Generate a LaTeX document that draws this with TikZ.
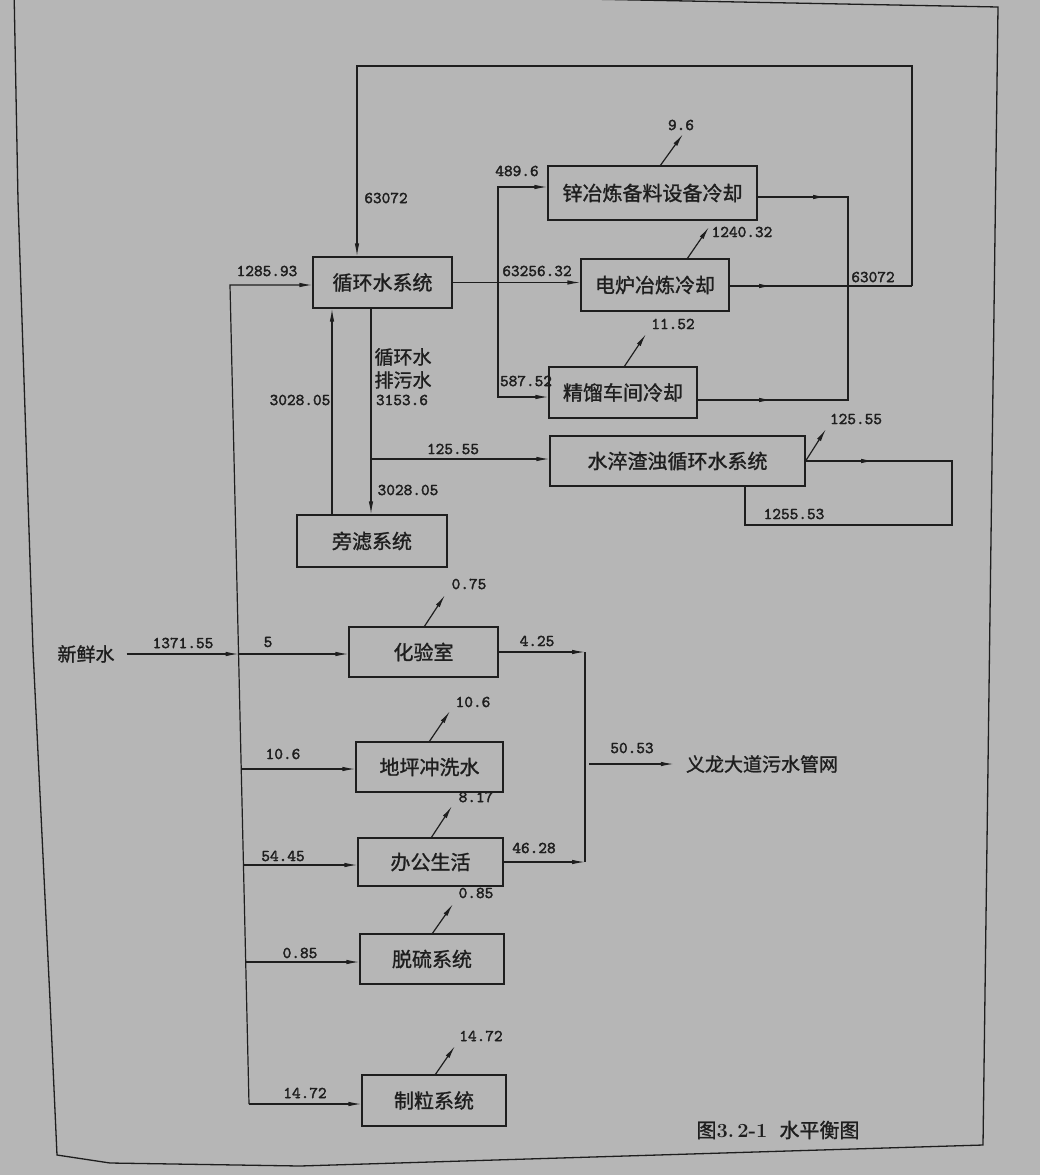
\documentclass[tikz,border=0pt]{standalone}
\usepackage{fontspec}
\newfontfamily\cjk[FakeBold=1.2]{Noto Sans CJK SC}
\newfontfamily\numfont[FakeBold=2.2]{lmmono10-regular.otf}
\usetikzlibrary{arrows.meta,calc}
\definecolor{pagec}{RGB}{182,182,182}
\definecolor{inkc}{RGB}{30,30,30}
\begin{document}
\begin{tikzpicture}[x=1pt,y=-1pt,
  ink/.style={color=inkc, line width=1.2pt},
  arr/.style={ink, -{Latex[length=13pt,width=4.5pt]}},
  biarr/.style={ink, {Latex[length=13pt,width=4.5pt]}-{Latex[length=13pt,width=4.5pt]}},
  box/.style={draw=inkc, line width=1.2pt, text=inkc, inner sep=0pt, font=\cjk\fontsize{20}{20}\selectfont},
  num/.style={text=inkc, inner sep=0pt, font=\numfont\fontsize{16.5}{16.5}\selectfont},
  zh/.style={text=inkc, inner sep=0pt, font=\cjk\fontsize{19}{19}\selectfont}]
\useasboundingbox (0,0) rectangle (1040,1175);
\fill[pagec] (0,0) rectangle (1040,1175);
% frame
\draw[ink, line width=1.3pt] (14,-12) -- (18,200) -- (33,650) -- (50,1000) -- (57,1155) -- (110,1163) -- (300,1166) -- (983,1145) -- (998,7) -- cycle;

% boxes
\node[box, minimum width=139pt, minimum height=51pt] (B1) at (382.5,282.5) {循环水系统};
\node[box, minimum width=209pt, minimum height=54pt] (B2) at (652.5,193) {锌冶炼备料设备冷却};
\node[box, minimum width=148pt, minimum height=52pt] (B3) at (655,285) {电炉冶炼冷却};
\node[box, minimum width=148pt, minimum height=51pt] (B4) at (623,392.5) {精馏车间冷却};
\node[box, minimum width=255pt, minimum height=50pt] (B5) at (677.5,461) {水淬渣浊循环水系统};
\node[box, minimum width=150pt, minimum height=52pt] (B6) at (372,541) {旁滤系统};
\node[box, minimum width=149pt, minimum height=50pt] (B7) at (423.5,652) {化验室};
\node[box, minimum width=147pt, minimum height=50pt] (B8) at (429.5,767) {地坪冲洗水};
\node[box, minimum width=145pt, minimum height=48pt] (B9) at (430.5,862) {办公生活};
\node[box, minimum width=144pt, minimum height=50pt] (B10) at (432,959) {脱硫系统};
\node[box, minimum width=144pt, minimum height=51pt] (B11) at (434,1100.5) {制粒系统};

\node[zh] (fw) at (86,654) {新鲜水};
\node[zh] (dest) at (762,764) {义龙大道污水管网};

% coordinates
\coordinate (j0) at (238.6,654);
\coordinate (jTop) at (230,285);
\coordinate (j1) at (241.2,769);
\coordinate (j2) at (243.5,865);
\coordinate (j3) at (245.7,962);
\coordinate (jB) at (249,1104);
\coordinate (dTop) at (498,187);
\coordinate (dBot) at (498,397);
\coordinate (cTop) at (848,197);
\coordinate (cMid) at (848,286);
\coordinate (cBot) at (848,400);
\coordinate (m2) at (826,197);
\coordinate (m3) at (772,286);
\coordinate (m4) at (772,400);
\coordinate (m5) at (874,461);
\coordinate (lR1) at (912,286);
\coordinate (lR2) at (912,66);
\coordinate (lL) at (357,66);
\coordinate (ux) at (332,0);
\coordinate (dx) at (371,0);
\coordinate (br) at (371,459);
\coordinate (r5) at (952,461);
\coordinate (r5b) at (952,525);
\coordinate (l5b) at (745,525);
\coordinate (k1) at (585,0);
\coordinate (k2) at (589,764);
\coordinate (e2) at (683,134);
\coordinate (e3) at (709,227);
\coordinate (e4) at (646,334);
\coordinate (e5) at (826,429);
\coordinate (e7) at (445,595);
\coordinate (e8) at (450,711);
\coordinate (e9) at (452,806);
\coordinate (e10) at (453,904);
\coordinate (e11) at (455,1046);

% fresh water and main distribution
\draw[arr, shorten <=12pt] (fw.east |- j0) -- (j0);
\draw[arr] (j0) -- (j0 -| B7.west);
\draw[arr] (jB) -- (jTop) -- (jTop -| B1.west);
\draw[arr] (j1) -- (j1 -| B8.west);
\draw[arr] (j2) -- (j2 -| B9.west);
\draw[arr] (j3) -- (j3 -| B10.west);
\draw[arr] (jB) -- (jB -| B11.west);

% circulating system
\draw[arr] (B1.east) -- (B1.east -| B3.west);
\draw[biarr] (dTop -| B2.west) -- (dTop) -- (dBot) -- (dBot -| B4.west);
\draw[ink] (B2.east |- cTop) -- (cTop) -- (cBot) -- (B4.east |- cBot);
\draw[arr] (B2.east |- cTop) -- (m2);
\draw[arr] (B4.east |- cBot) -- (m4);
\draw[ink] (B3.east |- cMid) -- (lR1);
\draw[arr] (B3.east |- cMid) -- (m3);
\draw[arr] (lR1) -- (lR2) -- (lL) -- (B1.north -| lL);
\draw[arr] (B6.north -| ux) -- (B1.south -| ux);
\draw[arr] (B1.south -| dx) -- (B6.north -| dx);
\draw[arr] (br) -- (br -| B5.west);
\draw[ink] (B5.east) -- (r5) -- (r5b) -- (l5b) -- (l5b |- B5.south);
\draw[arr] (B5.east) -- (m5);

% losses
\draw[arr] ($(B2.north west)+(113,0)$) -- (e2);
\draw[arr] ($(B3.north west)+(107,0)$) -- (e3);
\draw[arr] ($(B4.north west)+(76,0)$) -- (e4);
\draw[arr] (B5.east) -- (e5);
\draw[arr] ($(B7.north west)+(76,0)$) -- (e7);
\draw[arr] ($(B8.north west)+(74,0)$) -- (e8);
\draw[arr] ($(B9.north west)+(74,0)$) -- (e9);
\draw[arr] ($(B10.north west)+(73,0)$) -- (e10);
\draw[arr] ($(B11.north west)+(74,0)$) -- (e11);

% sewage
\draw[arr] (B7.east) -- (B7.east -| k1);
\draw[arr] (B9.east) -- (B9.east -| k1);
\draw[ink] (B7.east -| k1) -- (B9.east -| k1);
\draw[arr, shorten >=12pt] (k2) -- (dest.west);

% labels
\node[num] (l1) at (183,643) {1371.55};
\node[num] (l2) at (268,642) {5};
\node[num] (l3) at (267,271) {1285.93};
\node[num] (l4) at (386,198) {63072};
\node[num] (l5) at (517,171) {489.6};
\node[num] (l6) at (681,125) {9.6};
\node[num] (l7) at (537,271) {63256.32};
\node[num] (l8) at (742,232) {1240.32};
\node[num] (l9) at (873,277) {63072};
\node[num] (l10) at (673,324) {11.52};
\node[num] (l11) at (526,381) {587.52};
\node[zh] (l12) at (403,357) {循环水};
\node[zh] (l13) at (403,380) {排污水};
\node[num] (l14) at (402,400) {3153.6};
\node[num] (l15) at (300,400) {3028.05};
\node[num] (l16) at (453,449) {125.55};
\node[num] (l17) at (408,490) {3028.05};
\node[num] (l18) at (856,419) {125.55};
\node[num] (l19) at (794,514) {1255.53};
\node[num] (l20) at (469,584) {0.75};
\node[num] (l21) at (537,641) {4.25};
\node[num] (l22) at (283,754) {10.6};
\node[num] (l23) at (473,702) {10.6};
\node[num] (l24) at (476,797) {8.17};
\node[num] (l25) at (283,856) {54.45};
\node[num] (l26) at (534,848) {46.28};
\node[num] (l27) at (632,748) {50.53};
\node[num] (l28) at (476,893) {0.85};
\node[num] (l29) at (300,953) {0.85};
\node[num] (l30) at (481,1036) {14.72};
\node[num] (l31) at (305,1093) {14.72};
\node[text=inkc, inner sep=0pt, font=\fontsize{20}{20}\selectfont] (cap) at (778,1130) {{\cjk 图}\textbf{3.\,2-1}\ \ {\cjk 水平衡图}};
\end{tikzpicture}
\end{document}
